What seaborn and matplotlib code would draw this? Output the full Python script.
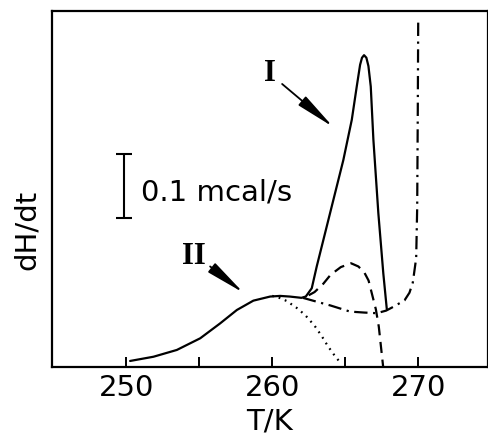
import numpy as np
import pandas as pd
import matplotlib
matplotlib.use("Agg")
import matplotlib.pyplot as plt
import seaborn as sns

# ---- data (T in K, dH/dt in mcal/s, baseline-relative) ----
T_I = [250.27, 251.87, 253.47, 255.07, 256.43, 257.58, 258.71, 259.86, 260.54,
       261.2, 262.0, 262.3, 262.71, 263.05, 263.5, 264.19, 264.87, 265.45,
       265.79, 266.02, 266.15, 266.29, 266.45, 266.59, 266.75, 266.93, 267.27,
       267.61, 267.85]
Y_I = [0.0094, 0.016, 0.0266, 0.0448, 0.068, 0.089, 0.1036, 0.110, 0.111,
       0.110, 0.108, 0.110, 0.123, 0.157, 0.198, 0.261, 0.323, 0.386,
       0.438, 0.472, 0.483, 0.487, 0.483, 0.470, 0.438, 0.355, 0.240,
       0.146, 0.090]

T_dash = [262.5, 262.9, 263.5, 264.0, 264.7, 265.4, 265.9, 266.3, 266.6,
          266.9, 267.1, 267.3, 267.6]
Y_dash = [0.112, 0.117, 0.130, 0.144, 0.156, 0.162, 0.157, 0.148, 0.135,
          0.108, 0.090, 0.063, 0.0]

T_dashdot = [262.1, 263.2, 264.0, 265.33, 266.3, 267.16, 267.8, 268.3, 269.06,
             269.4, 269.63, 269.86, 269.93, 269.97, 270.0]
Y_dashdot = [0.108, 0.101, 0.096, 0.0865, 0.085, 0.084, 0.088, 0.094, 0.104,
             0.116, 0.132, 0.170, 0.25, 0.40, 0.545]

T_dot = [260.0, 260.39, 261.0, 261.76, 262.3, 262.9, 263.4, 263.8, 264.3, 264.73]
Y_dot = [0.111, 0.109, 0.103, 0.091, 0.080, 0.0645, 0.048, 0.033, 0.017, 0.005]

x_major = [250, 260, 270]
x_minor = [255, 265]
scale_T = 249.85
scale_y0 = 0.232
scale_len = 0.1
scale_label = "0.1 mcal/s"

label_I = "I"
label_II = "II"
I_text = (259.86, 0.458)
I_tip = (264.17, 0.375)
I_tail = (260.68, 0.442)
II_text = (254.65, 0.172)
II_tip = (258.03, 0.116)
II_tail = (255.75, 0.157)

# ---- style ----
sns.set_style("white")
plt.rcParams["font.family"] = ["DejaVu Sans"]
plt.rcParams["text.color"] = "black"
plt.rcParams["axes.labelcolor"] = "black"
plt.rcParams["xtick.color"] = "black"

fig = plt.figure(figsize=(4.89, 4.36), dpi=100)
ax = fig.add_axes([0.1057, 0.1583, 0.8923, 0.8165])

lw = 1.6
sns.lineplot(x=T_I, y=Y_I, ax=ax, sort=False, estimator=None, color="black",
             lw=lw, solid_joinstyle="round")
sns.lineplot(x=T_dash, y=Y_dash, ax=ax, sort=False, estimator=None, color="black",
             lw=lw, linestyle=(0, (5, 3)))
sns.lineplot(x=T_dashdot, y=Y_dashdot, ax=ax, sort=False, estimator=None, color="black",
             lw=lw, linestyle=(0, (6, 2.5, 1, 2.5)))
sns.lineplot(x=T_dot, y=Y_dot, ax=ax, sort=False, estimator=None, color="black",
             lw=lw, linestyle=(0, (0.8, 2.2)))

# scale bar
ax.errorbar([scale_T], [scale_y0 + scale_len / 2], yerr=[[scale_len / 2], [scale_len / 2]],
            fmt="none", ecolor="black", elinewidth=1.5, capsize=6, capthick=1.5)
ax.text(scale_T + 1.2, scale_y0 + scale_len * 0.4, scale_label, fontsize=21,
        ha="left", va="center", color="black")

# roman numeral labels with arrows
arrow_kw = dict(arrowstyle="-|>,head_length=1.1,head_width=0.16", color="black",
                lw=1.3, mutation_scale=22, shrinkA=0, shrinkB=0)
ax.text(*I_text, label_I, family="Liberation Serif", weight="bold", fontsize=22,
        ha="center", va="center", color="black")
ax.annotate("", xy=I_tip, xytext=I_tail, arrowprops=arrow_kw)
ax.text(*II_text, label_II, family="Liberation Serif", weight="bold", fontsize=22,
        ha="center", va="center", color="black")
ax.annotate("", xy=II_tip, xytext=II_tail, arrowprops=arrow_kw)

ax.set_xlim(244.9, 274.78)
ax.set_ylim(0, 0.556)
ax.set_xticks(x_major)
ax.set_xticks(x_minor, minor=True)
ax.set_yticks([])
ax.tick_params(axis="x", which="both", direction="in", length=7.5, width=1.4,
               labelsize=21, pad=5, bottom=True, top=False, colors="black")
for s in ax.spines.values():
    s.set_linewidth(1.6)
    s.set_color("black")

ax.set_xlabel("T/K", fontsize=21, labelpad=4, color="black")
ax.set_ylabel("dH/dt", fontsize=21, va="center", color="black")
ax.yaxis.set_label_coords(-0.058, 0.386)

fig.savefig("out.png", dpi=100)
